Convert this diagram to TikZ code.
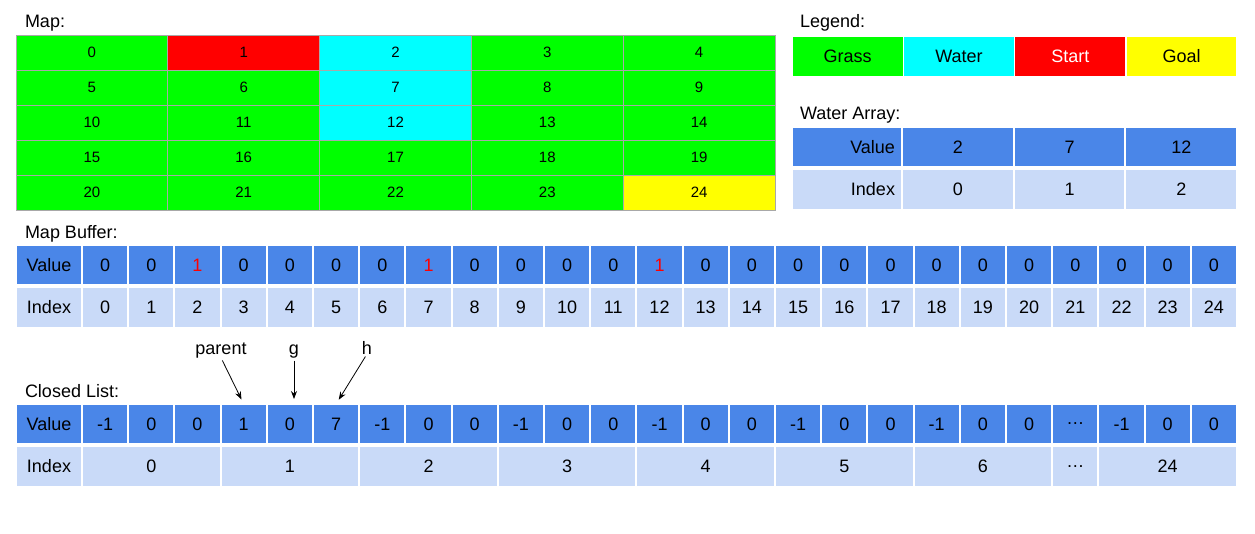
\documentclass[tikz,border=0pt]{standalone}
\usepackage{fontspec}
\setmainfont{Liberation Sans}
\usetikzlibrary{arrows.meta, positioning}

\definecolor{grass}{HTML}{00FF00}
\definecolor{water}{HTML}{00FFFF}
\definecolor{start}{HTML}{FF0000}
\definecolor{goal}{HTML}{FFFF00}
\definecolor{mapline}{HTML}{A8A8A8}
\definecolor{valblue}{HTML}{4A86E8}
\definecolor{idxblue}{HTML}{C9DAF8}

\begin{document}
\begin{tikzpicture}
        [x=1pt, y=-1pt,
         every node/.style={
             inner sep=0pt,
             outer sep=0pt,
             font=\fontsize{18}{20}\selectfont
         },
         title/.style={anchor=base west},
         mapcell/.style={
             draw=mapline,
             line width=1pt,
             minimum width=151.8pt,
             minimum height=35pt,
             anchor=north west,
             font=\fontsize{15}{17}\selectfont
         },
         legcell/.style={
             draw=white,
             line width=1.5pt,
             minimum width=111.3pt,
             minimum height=41pt,
             anchor=north west
         },
         valcell/.style={
             fill=valblue,
             draw=white,
             line width=2pt,
             minimum height=40pt,
             anchor=north west
         },
         idxcell/.style={
             fill=idxblue,
             draw=white,
             line width=2pt,
             minimum height=41pt,
             anchor=north west
         },
         note/.style={anchor=base},
         pointer/.style={
             -{Stealth[length=8pt, width=6pt]},
             line width=0.8pt,
             shorten <=3pt,
             shorten >=5pt
         }
         ]
        \useasboundingbox (0,0) rectangle (1255,533);

        % map
        \node[title] (maptitle) at (25,27) {Map:};
        \foreach \n/\col in {0/grass, 1/start, 2/water, 3/grass, 4/grass,
                             5/grass, 6/grass, 7/water, 8/grass, 9/grass,
                             10/grass, 11/grass, 12/water, 13/grass, 14/grass,
                             15/grass, 16/grass, 17/grass, 18/grass, 19/grass,
                             20/grass, 21/grass, 22/grass, 23/grass, 24/goal} {
            \pgfmathsetmacro\mx{16 + 151.8*mod(\n,5)}
            \pgfmathsetmacro\my{35 + 35*int(\n/5)}
            \node[mapcell, fill=\col] (m\n) at (\mx,\my) {\n};
        }

        % legend
        \node[title] (legtitle) at (800,27) {Legend:};
        \foreach \t/\col/\tc [count=\k from 0] in {Grass/grass/black, Water/water/black,
                                                  Start/start/white, Goal/goal/black}
            \node[legcell, fill=\col, text=\tc] (leg\k) at ({792+111.3*\k},36) {\t};

        % water array
        \node[title] (wattitle) at (800,119) {Water Array:};
        \node[valcell, text width=96pt, inner xsep=7pt, align=right] (wvlabel) at (792,127) {Value};
        \node[idxcell, text width=96pt, inner xsep=7pt, align=right] (wilabel) at (792,169) {Index};
        \foreach \v [count=\k from 0] in {2,7,12} {
            \node[valcell, minimum width=111.7pt] (wv\k) at ({902+111.7*\k},127) {\v};
            \node[idxcell, minimum width=111.7pt] (wi\k) at ({902+111.7*\k},169) {\k};
        }

        % map buffer
        \node[title] (buftitle) at (25,238) {Map Buffer:};
        \node[valcell, minimum width=66pt] (bvlabel) at (16,245) {Value};
        \node[idxcell, minimum width=66pt] (bilabel) at (16,287) {Index};
        \foreach \i in {0,...,24} {
            \pgfmathtruncatemacro\iswater{(\i==2)||(\i==7)||(\i==12)}
            \ifnum\iswater=1 \def\bval{\textcolor{red}{1}}\else\def\bval{0}\fi
            \node[valcell, minimum width=46.2pt] (bv\i) at ({82+46.2*\i},245) {\bval};
            \node[idxcell, minimum width=46.2pt] (bi\i) at ({82+46.2*\i},287) {\i};
        }

        % closed list
        \node[title] (cltitle) at (25,397) {Closed List:};
        \node[valcell, minimum width=66pt] (cvlabel) at (16,404) {Value};
        \node[idxcell, minimum width=66pt] (cilabel) at (16,446) {Index};
        \foreach \v [count=\i from 0] in {-1,0,0,1,0,7,-1,0,0,-1,0,0,-1,0,0,
                                          -1,0,0,-1,0,0,…,-1,0,0}
            \node[valcell, minimum width=46.2pt] (cv\i) at ({82+46.2*\i},404) {\v};
        \foreach \t/\s/\w [count=\k from 0] in {0/0/3, 1/3/3, 2/6/3, 3/9/3, 4/12/3,
                                                5/15/3, 6/18/3, …/21/1, 24/22/3}
            \node[idxcell, minimum width={46.2pt*\w}] (ci\k) at ({82+46.2*\s},446) {\t};

        % field pointers
        \node[note] (parent) at (221,354) {parent};
        \node[note] (gval) at (294,354) {g};
        \node[note] (hval) at (367,354) {h};
        \draw[pointer] (parent.south) -- (cv3.north);
        \draw[pointer] (gval.south) -- (gval.south |- cv4.north);
        \draw[pointer] (hval.south) -- (cv5.north);
    \end{tikzpicture}
\end{document}
